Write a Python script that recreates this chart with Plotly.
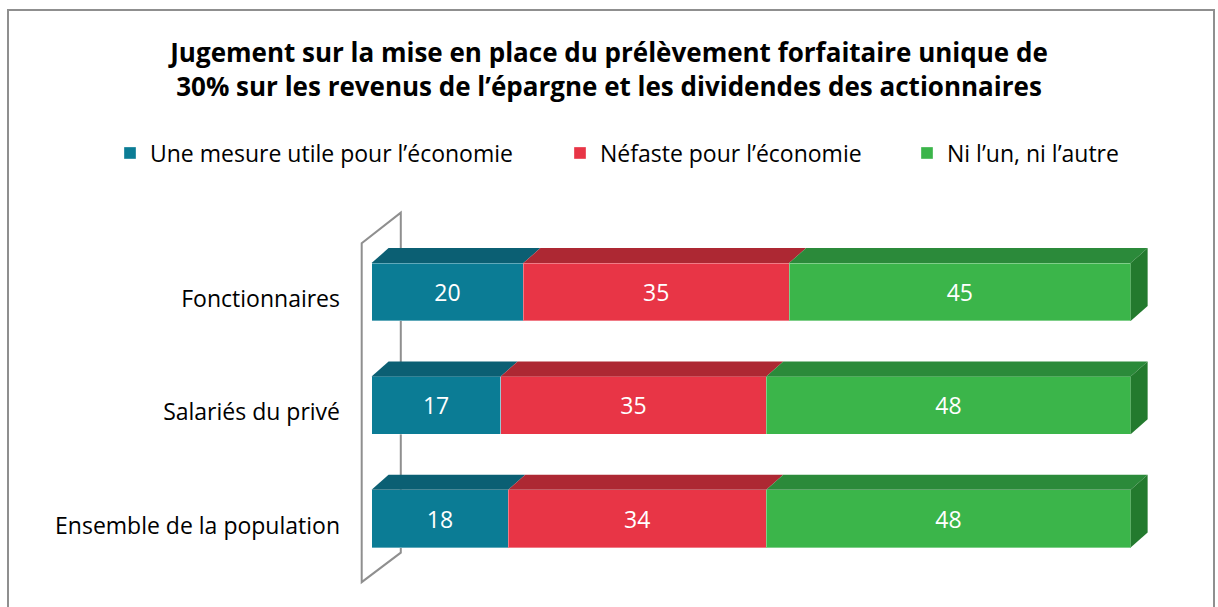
import plotly.graph_objects as go

# ---- data ----
categories = ["Ensemble de la population", "Salariés du privé", "Fonctionnaires"]
series_names = ["Une mesure utile pour l’économie", "Néfaste pour l’économie", "Ni l’un, ni l’autre"]
utile = [18, 17, 20]
nefaste = [34, 35, 35]
ni_lun = [48, 48, 45]
title_text = ("Jugement sur la mise en place du prélèvement forfaitaire unique de<br>"
              "30% sur les revenus de l’épargne et les dividendes des actionnaires")

# ---- styles ----
front_colors = ["#0b7c95", "#e83546", "#3bb54a"]
top_colors = ["#0b5f73", "#ad2833", "#2b8a3a"]
side_color = "#237a2e"
FONT = "Open Sans"

W, H = 1218, 607
ML, MR, MT, MB = 345, 57, 190, 9
XR = [-3.5, 104]
YR = [-0.7, 2.9]
PW, PH = W - ML - MR, H - MT - MB
pxu_x = PW / (XR[1] - XR[0])
pxu_y = PH / (YR[1] - YR[0])
DX = 17 / pxu_x          # 3D depth offset in data units
DY = 15 / pxu_y
BW = 0.51                # bar thickness
LABEL_DROP = 7 / pxu_y   # category labels sit slightly below bar centre

ypos = list(range(len(categories)))
series = [utile, nefaste, ni_lun]
legend_ids = ["legend", "legend2", "legend3"]
legend_px = [110, 560, 907]

def px2paper_x(p):
    return (p - ML) / PW
def px2paper_y(p):
    return (H - MB - p) / PH

fig = go.Figure()
for name, vals, col, lid in zip(series_names, series, front_colors, legend_ids):
    fig.add_trace(go.Bar(
        y=ypos, x=vals, name=name, orientation="h", width=BW, legend=lid,
        marker=dict(color=col, line=dict(color="rgba(255,255,255,0.35)", width=1)),
        text=vals, texttemplate="%{text}", textposition="inside",
        insidetextanchor="middle",
        textfont=dict(color="white", size=23, family=FONT),
        hoverinfo="x+name",
    ))

shapes = []
# chart frame
shapes.append(dict(type="rect", xref="paper", yref="paper",
                   x0=px2paper_x(8), x1=px2paper_x(1214),
                   y0=px2paper_y(640), y1=px2paper_y(10),
                   line=dict(color="#8f8f8f", width=2), layer="below"))

# 3D wall (vertical axis plane)
wx0 = -1.3
wall_path = (f"M {wx0},-0.56 L {wx0},2.43 L {wx0 + 5.15},2.70 "
             f"L {wx0 + 5.15},-0.30 Z")
shapes.append(dict(type="path", xref="x", yref="y", path=wall_path,
                   line=dict(color="#8f8f8f", width=2), layer="below"))

# 3D top and side faces computed from data
for i in ypos:
    start = 0
    yt = i + BW / 2
    for j, vals in enumerate(series):
        a, b = start, start + vals[i]
        path = (f"M {a},{yt} L {b},{yt} L {b + DX},{yt + DY} L {a + DX},{yt + DY} Z")
        shapes.append(dict(type="path", xref="x", yref="y", path=path,
                           fillcolor=top_colors[j], line=dict(width=0), layer="above"))
        start = b
    yb = i - BW / 2
    side = (f"M {start},{yb} L {start},{yt} L {start + DX},{yt + DY} "
            f"L {start + DX},{yb + DY} Z")
    shapes.append(dict(type="path", xref="x", yref="y", path=side,
                       fillcolor=side_color, line=dict(width=0), layer="above"))

legend_common = dict(orientation="h", xanchor="left", yanchor="middle",
                     font=dict(family=FONT, size=23, color="#000000"),
                     itemwidth=30, bgcolor="rgba(0,0,0,0)")
legends = {}
for lid, lx in zip(legend_ids, legend_px):
    legends[lid] = dict(legend_common, x=px2paper_x(lx), y=px2paper_y(153))

fig.update_layout(
    width=W, height=H, autosize=False,
    margin=dict(l=ML, r=MR, t=MT, b=MB, pad=0),
    paper_bgcolor="white", plot_bgcolor="white",
    barmode="stack",
    font=dict(family=FONT, color="#000000", size=23),
    title=dict(text=title_text, x=0.5, xref="container", xanchor="center",
               y=1 - 62 / H, yanchor="top",
               font=dict(family=FONT, size=26, color="#000000", weight="bold")),
    xaxis=dict(range=XR, visible=False, fixedrange=True),
    yaxis=dict(range=YR, tickvals=[y - LABEL_DROP for y in ypos], ticktext=categories,
               showgrid=False, zeroline=False, showline=False, ticks="",
               tickfont=dict(family=FONT, size=23, color="#000000"),
               ticklabelstandoff=4, fixedrange=True),
    shapes=shapes,
    showlegend=True,
    **legends,
)

fig.write_html("out.html", config={"displayModeBar": False},
               post_script="document.body.style.margin='0px';")
